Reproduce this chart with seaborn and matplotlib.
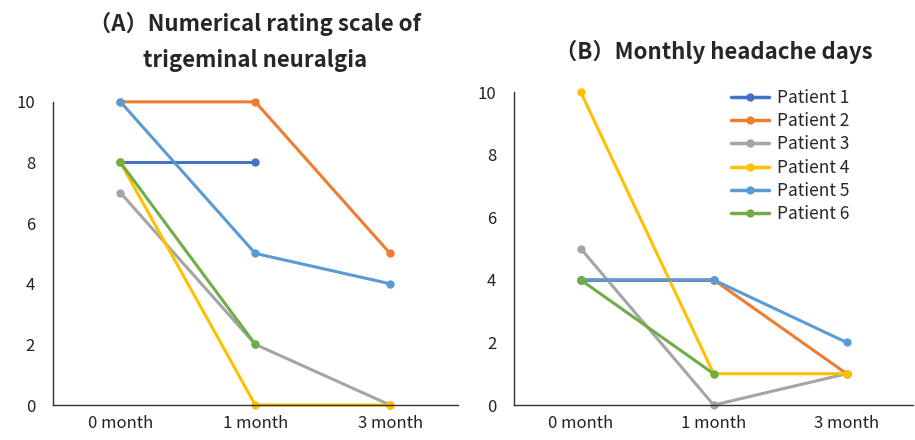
import numpy as np
import pandas as pd
import matplotlib.pyplot as plt
import seaborn as sns

months = ["0 month", "1 month", "3 month"]
patients = ["Patient 1", "Patient 2", "Patient 3", "Patient 4", "Patient 5", "Patient 6"]
colors = ["#4472C4", "#ED7D31", "#A5A5A5", "#FFC000", "#5B9BD5", "#70AD47"]

# (A) numerical rating scale, one list per patient
nrs_p1 = [8, 8, np.nan]
nrs_p2 = [10, 10, 5]
nrs_p3 = [7, 2, 0]
nrs_p4 = [8, 0, 0]
nrs_p5 = [10, 5, 4]
nrs_p6 = [8, 2, np.nan]

# (B) monthly headache days
mhd_p1 = [4, 4, np.nan]
mhd_p2 = [4, 4, 1]
mhd_p3 = [5, 0, 1]
mhd_p4 = [10, 1, 1]
mhd_p5 = [4, 4, 2]
mhd_p6 = [4, 1, np.nan]

nrs = [nrs_p1, nrs_p2, nrs_p3, nrs_p4, nrs_p5, nrs_p6]
mhd = [mhd_p1, mhd_p2, mhd_p3, mhd_p4, mhd_p5, mhd_p6]


def to_long(series):
    rows = []
    for p, vals in zip(patients, series):
        for m, v in zip(months, vals):
            rows.append({"patient": p, "month": m, "value": v})
    return pd.DataFrame(rows).dropna()


sns.set_theme(style="white")
plt.rcParams["font.family"] = ["Noto Sans CJK JP", "DejaVu Sans"]

fig = plt.figure(figsize=(9.15, 4.4), dpi=100)
ax_a = fig.add_axes([0.058, 0.0795, 0.442, 0.689])
ax_b = fig.add_axes([0.562, 0.0795, 0.436, 0.711])

palette = dict(zip(patients, colors))

for ax, series, show_legend in [(ax_a, nrs, False), (ax_b, mhd, True)]:
    df = to_long(series)
    sns.lineplot(data=df, x="month", y="value", hue="patient", hue_order=patients,
                 palette=palette, marker="o", markersize=6, markeredgewidth=0,
                 linewidth=2.2, sort=False, ax=ax, legend=show_legend)
    ax.set_xlim(-0.5, 2.5)
    ax.set_ylim(0, 10)
    ax.set_yticks([0, 2, 4, 6, 8, 10])
    ax.set_xlabel("")
    ax.set_ylabel("")
    ax.tick_params(axis="both", length=0, labelsize=12, colors="#222222")
    ax.tick_params(axis="y", pad=13)
    ax.tick_params(axis="x", pad=7)
    sns.despine(ax=ax)
    for s in ["left", "bottom"]:
        ax.spines[s].set_color("#333333")
        ax.spines[s].set_linewidth(1.0)
    for line in ax.lines:
        line.set_clip_on(False)

ax_a.set_title("（A）Numerical rating scale of\ntrigeminal neuralgia", fontsize=16,
               fontweight="bold", linespacing=1.75, pad=25)
ax_b.set_title("（B）Monthly headache days", fontsize=16, fontweight="bold", pad=24)

leg = ax_b.legend(loc="upper right", bbox_to_anchor=(0.88, 1.06), frameon=False,
                  fontsize=12.5, handlelength=2.2, labelspacing=0.3, handletextpad=0.45)
for h in leg.legend_handles:
    h.set_linewidth(2.5)

fig.savefig("out.png", dpi=100)
